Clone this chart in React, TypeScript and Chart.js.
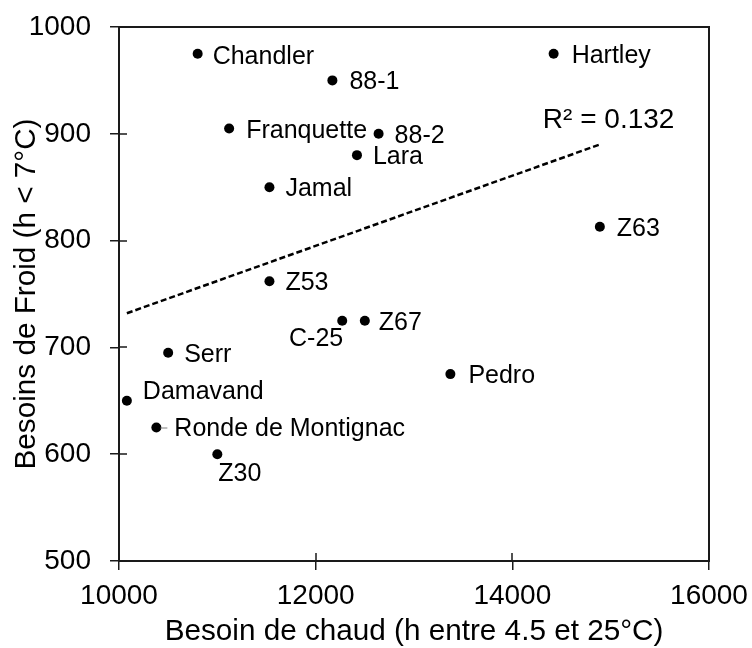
import React, { useEffect, useRef } from 'react';
import { Chart, registerables } from 'chart.js';

Chart.register(...registerables);

const FONT = '"Liberation Sans", Arial, Helvetica, sans-serif';
const INK = '#000000';
const AXIS = '#1a1a1a';

// ---- data ----
const cultivars = [
  'Chandler', '88-1', 'Franquette', '88-2', 'Lara', 'Jamal', 'Hartley', 'Z63',
  'Z53', 'C-25', 'Z67', 'Serr', 'Pedro', 'Damavand', 'Ronde de Montignac', 'Z30',
];
const chaud = [
  10800, 12170, 11120, 12640, 12420, 11530, 14420, 14890,
  11530, 12270, 12500, 10500, 13370, 10080, 10380, 11000,
];
const froid = [
  975, 950, 905, 900, 880, 850, 975, 813,
  762, 725, 725, 695, 675, 650, 625, 600,
];
const trendChaud = [10080, 14890];
const trendFroid = [732, 890];
const r2Text = 'R² = 0.132';
const xTicks = [10000, 12000, 14000, 16000];
const yTicks = [500, 600, 700, 800, 900, 1000];
const xTitle = 'Besoin de chaud (h entre 4.5 et 25°C)';
const yTitle = 'Besoins de Froid (h < 7°C)';

// ---- label placement (pixel offsets from the point centre to the text) ----
type Place = { dx: number; dy: number; align: CanvasTextAlign; leader?: boolean };
const labelPlacement: Place[] = [
  { dx: 15, dy: 1, align: 'left' },   // Chandler
  { dx: 17, dy: 0, align: 'left' },   // 88-1
  { dx: 17, dy: 1, align: 'left' },   // Franquette
  { dx: 16, dy: 0, align: 'left' },   // 88-2
  { dx: 16, dy: 0, align: 'left' },   // Lara
  { dx: 16, dy: 0, align: 'left' },   // Jamal
  { dx: 18, dy: 0, align: 'left' },   // Hartley
  { dx: 17, dy: 0, align: 'left' },   // Z63
  { dx: 16, dy: 0, align: 'left' },   // Z53
  { dx: 1, dy: 16, align: 'right' },  // C-25
  { dx: 14, dy: 0, align: 'left' },   // Z67
  { dx: 16, dy: 0, align: 'left' },   // Serr
  { dx: 18, dy: 0, align: 'left' },   // Pedro
  { dx: 16, dy: -11, align: 'left' }, // Damavand
  { dx: 18, dy: 0, align: 'left', leader: true }, // Ronde de Montignac
  { dx: 1, dy: 18, align: 'left' },   // Z30
];

const LABEL_SIZE = 25;
const TICK_SIZE = 28;
const TITLE_SIZE = 29.7;
const R2_SIZE = 28;

const decorPlugin = {
  id: 'decor',
  afterDatasetsDraw(chart: any) {
    const { ctx, chartArea: ca, scales } = chart;
    ctx.save();
    // top and right frame
    ctx.strokeStyle = AXIS;
    ctx.lineWidth = 2;
    ctx.beginPath();
    ctx.moveTo(ca.left - 1, ca.top);
    ctx.lineTo(ca.right, ca.top);
    ctx.lineTo(ca.right, ca.bottom + 1);
    ctx.stroke();
    // inner tick marks
    ctx.lineWidth = 1.5;
    ctx.beginPath();
    scales.y.ticks.forEach((t: any) => {
      const py = Math.round(scales.y.getPixelForValue(t.value));
      ctx.moveTo(ca.left, py);
      ctx.lineTo(ca.left + 8, py);
    });
    scales.x.ticks.forEach((t: any) => {
      const px = Math.round(scales.x.getPixelForValue(t.value));
      ctx.moveTo(px, ca.bottom);
      ctx.lineTo(px, ca.bottom - 8);
    });
    ctx.stroke();

    // point labels
    const meta = chart.getDatasetMeta(0);
    ctx.font = `${LABEL_SIZE}px ${FONT}`;
    ctx.fillStyle = INK;
    ctx.textBaseline = 'alphabetic';
    const cap = LABEL_SIZE * 0.716;
    meta.data.forEach((el: any, i: number) => {
      const p = labelPlacement[i];
      if (p.leader) {
        ctx.strokeStyle = '#7f7f7f';
        ctx.lineWidth = 1;
        ctx.beginPath();
        ctx.moveTo(el.x + 4, el.y + 0.5);
        ctx.lineTo(el.x + 11, el.y + 0.5);
        ctx.stroke();
      }
      ctx.textAlign = p.align;
      ctx.fillText(cultivars[i], el.x + p.dx, el.y + p.dy + cap / 2);
    });

    // R² label near the end of the trend line
    const tmeta = chart.getDatasetMeta(1);
    const end = tmeta.data[tmeta.data.length - 1];
    ctx.font = `${R2_SIZE}px ${FONT}`;
    ctx.textAlign = 'left';
    ctx.fillText(r2Text, end.x - 57, end.y - 27 + (R2_SIZE * 0.716) / 2);
    ctx.restore();
  },
};

export default function App() {
  const ref = useRef<HTMLCanvasElement | null>(null);

  useEffect(() => {
    if (!ref.current) return;
    const chart = new Chart(ref.current, {
      type: 'scatter',
      data: {
        datasets: [
          {
            label: 'Cultivars',
            data: chaud.map((x, i) => ({ x, y: froid[i] })),
            backgroundColor: INK,
            borderWidth: 0,
            pointRadius: 5,
            pointHoverRadius: 5,
          },
          {
            label: 'Trend',
            type: 'line',
            data: trendChaud.map((x, i) => ({ x, y: trendFroid[i] })),
            borderColor: INK,
            borderWidth: 2.5,
            borderDash: [6, 3],
            pointRadius: 0,
            fill: false,
          } as any,
        ],
      },
      options: {
        responsive: false,
        animation: false,
        events: [],
        layout: { padding: { left: 0, right: 43, top: 27, bottom: 0 } },
        plugins: {
          legend: { display: false },
          tooltip: { enabled: false },
          title: { display: false },
        },
        scales: {
          x: {
            type: 'linear',
            min: 10000,
            max: 16000,
            afterBuildTicks: (s: any) => {
              s.ticks = xTicks.map((v) => ({ value: v }));
            },
            afterFit: (s: any) => {
              s.height = 87;
              s.paddingLeft = 0;
              s.paddingRight = 0;
            },
            grid: {
              drawOnChartArea: false,
              drawTicks: true,
              tickLength: 9,
              color: AXIS,
              lineWidth: 1.5,
            },
            border: { display: true, color: AXIS, width: 2 },
            ticks: {
              padding: 9,
              color: INK,
              font: { family: FONT, size: TICK_SIZE },
              maxRotation: 0,
              autoSkip: false,
              callback: (v: any) => String(v),
            },
            title: {
              display: true,
              text: xTitle,
              color: INK,
              font: { family: FONT, size: TITLE_SIZE, lineHeight: 1 },
              padding: { top: 0, bottom: 1 },
            },
          },
          y: {
            type: 'linear',
            min: 500,
            max: 1000,
            afterBuildTicks: (s: any) => {
              s.ticks = yTicks.map((v) => ({ value: v }));
            },
            afterFit: (s: any) => {
              s.width = 119;
              s.paddingTop = 0;
              s.paddingBottom = 0;
            },
            grid: {
              drawOnChartArea: false,
              drawTicks: true,
              tickLength: 9,
              color: AXIS,
              lineWidth: 1.5,
            },
            border: { display: true, color: AXIS, width: 2 },
            ticks: {
              padding: 19,
              color: INK,
              font: { family: FONT, size: TICK_SIZE },
              autoSkip: false,
              callback: (v: any) => String(v),
            },
            title: {
              display: true,
              text: yTitle,
              color: INK,
              font: { family: FONT, size: TITLE_SIZE, lineHeight: 1 },
              padding: { top: 12, bottom: 0 },
            },
          },
        },
      },
      plugins: [decorPlugin],
    });
    return () => chart.destroy();
  }, []);

  return (
    <div style={{ position: 'fixed', left: 0, top: 0, width: 752, height: 648, background: '#fff' }}>
      <canvas ref={ref} width={752} height={648} style={{ display: 'block' }} />
    </div>
  );
}
